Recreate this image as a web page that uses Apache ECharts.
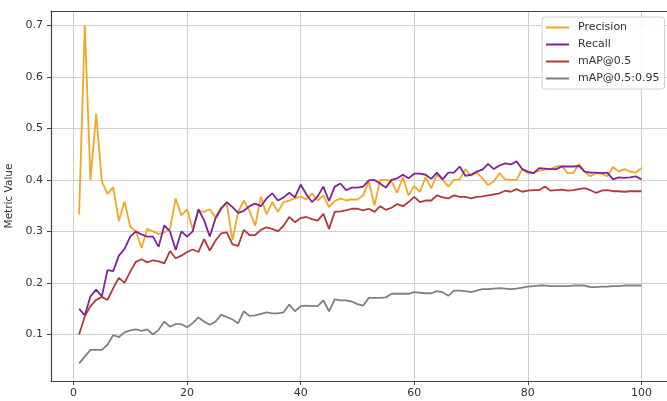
<!DOCTYPE html>
<html>
<head>
<meta charset="utf-8">
<script src="https://cdn.jsdelivr.net/npm/echarts@6/dist/echarts.min.js"></script>
<style>
html,body{margin:0;padding:0;background:#fff;}
#chart{width:667px;height:401px;}
</style>
</head>
<body>
<div id="chart"></div>
<script>
const epochs = Array.from({length:100},(_, i) => i + 1);
const precision = [
0.333,0.700,0.400,0.528,0.397,0.373,0.386,0.320,0.358,0.309,
0.300,0.268,0.305,0.300,0.295,0.298,0.305,0.364,0.331,0.343,
0.304,0.340,0.338,0.343,0.327,0.347,0.354,0.283,0.338,0.360,
0.340,0.311,0.367,0.333,0.357,0.338,0.357,0.360,0.364,0.368,
0.362,0.374,0.360,0.370,0.347,0.359,0.364,0.360,0.362,0.362,
0.370,0.397,0.350,0.400,0.400,0.397,0.375,0.405,0.370,0.388,
0.377,0.405,0.384,0.410,0.400,0.387,0.400,0.401,0.421,0.408,
0.414,0.403,0.390,0.397,0.413,0.401,0.400,0.400,0.421,0.413,
0.413,0.418,0.420,0.421,0.426,0.427,0.413,0.413,0.431,0.416,
0.407,0.413,0.412,0.407,0.425,0.416,0.421,0.416,0.414,0.423];
const recall = [
0.150,0.137,0.174,0.187,0.174,0.225,0.223,0.253,0.266,0.290,
0.300,0.294,0.290,0.290,0.270,0.312,0.300,0.264,0.300,0.290,
0.300,0.343,0.322,0.290,0.325,0.344,0.357,0.347,0.336,0.340,
0.349,0.354,0.349,0.364,0.374,0.360,0.366,0.375,0.366,0.391,
0.372,0.357,0.368,0.387,0.359,0.387,0.393,0.380,0.385,0.385,
0.387,0.399,0.400,0.393,0.385,0.400,0.403,0.410,0.403,0.412,
0.412,0.410,0.402,0.414,0.401,0.414,0.414,0.426,0.408,0.410,
0.416,0.420,0.431,0.421,0.428,0.432,0.430,0.436,0.421,0.416,
0.413,0.423,0.422,0.421,0.421,0.426,0.426,0.426,0.427,0.416,
0.414,0.414,0.413,0.414,0.401,0.405,0.404,0.405,0.407,0.401];
const map50 = [
0.100,0.135,0.155,0.167,0.173,0.167,0.190,0.210,0.200,0.222,
0.241,0.246,0.240,0.244,0.242,0.238,0.262,0.248,0.253,0.260,
0.265,0.260,0.285,0.263,0.282,0.296,0.298,0.275,0.272,0.303,
0.293,0.293,0.303,0.308,0.305,0.300,0.311,0.328,0.318,0.326,
0.328,0.324,0.321,0.334,0.305,0.338,0.339,0.341,0.344,0.344,
0.341,0.344,0.338,0.349,0.342,0.346,0.353,0.349,0.357,0.367,
0.357,0.360,0.360,0.370,0.366,0.364,0.370,0.367,0.367,0.364,
0.367,0.368,0.370,0.372,0.374,0.379,0.377,0.382,0.377,0.379,
0.380,0.380,0.387,0.379,0.380,0.381,0.379,0.380,0.382,0.384,
0.380,0.375,0.379,0.380,0.378,0.378,0.377,0.378,0.378,0.378];
const map5095 = [
0.044,0.057,0.070,0.070,0.070,0.080,0.099,0.095,0.104,0.108,
0.110,0.107,0.110,0.100,0.109,0.125,0.115,0.120,0.120,0.114,
0.122,0.133,0.125,0.119,0.125,0.138,0.134,0.129,0.122,0.145,
0.136,0.137,0.140,0.143,0.141,0.141,0.143,0.158,0.145,0.155,
0.156,0.155,0.155,0.166,0.145,0.168,0.166,0.166,0.164,0.159,
0.156,0.171,0.171,0.171,0.172,0.179,0.179,0.179,0.179,0.182,
0.181,0.180,0.180,0.184,0.182,0.175,0.185,0.185,0.184,0.182,
0.185,0.188,0.188,0.189,0.190,0.189,0.188,0.189,0.191,0.193,
0.194,0.195,0.195,0.194,0.194,0.194,0.194,0.195,0.195,0.195,
0.192,0.192,0.193,0.193,0.194,0.194,0.195,0.195,0.195,0.195];
const xTicks = [0,20,40,60,80,100];
const yTicks = [0.1,0.2,0.3,0.4,0.5,0.6,0.7];
const seriesNames = ['Precision','Recall','mAP@0.5','mAP@0.5:0.95'];
const seriesColors = ['#F6A623','#82229A','#B03A3C','#808080'];

const pairs = arr => epochs.map((e, i) => [e, arr[i]]);
const allData = [precision, recall, map50, map5095];

const font = 'DejaVu Sans';
const chart = echarts.init(document.getElementById('chart'), null, {renderer:'canvas'});
chart.setOption({
  animation: false,
  backgroundColor: '#ffffff',
  textStyle: {fontFamily: font},
  grid: {left: 51, top: 11, right: 0, bottom: 20, containLabel: false, outerBoundsMode: 'none'},
  legend: {
    data: seriesNames,
    orient: 'vertical',
    left: 542, top: 17,
    padding: [4, 5, 4, 4],
    itemGap: 4,
    itemWidth: 23, itemHeight: 2,
    icon: 'rect',
    backgroundColor: 'rgba(255,255,255,0.85)',
    borderColor: '#d0d0d0', borderWidth: 1, borderRadius: 3,
    textStyle: {fontFamily: font, fontSize: 11, color: '#333', padding: [0,0,0,4], lineHeight: 13}
  },
  xAxis: [{
    type: 'value', min: -3.95, max: 104.5,
    axisLine: {show: true, onZero: false, lineStyle: {color: '#444', width: 1.2}},
    axisTick: {show: true, length: 4, customValues: xTicks, lineStyle: {color: '#444'}},
    axisLabel: {customValues: xTicks, margin: 7, fontSize: 11, color: '#333', fontFamily: font},
    splitLine: {show: true, lineStyle: {color: '#cfcfcf', width: 1}}
  }, {
    type: 'value', position: 'top', min: -3.95, max: 104.5,
    axisLine: {show: true, onZero: false, lineStyle: {color: '#444', width: 1.2}},
    axisTick: {show: false}, axisLabel: {show: false}, splitLine: {show: false}
  }],
  yAxis: {
    type: 'value', min: 0.0097, max: 0.7278,
    name: 'Metric Value', nameLocation: 'middle', nameGap: 20,
    nameTextStyle: {fontFamily: font, fontSize: 10.5, color: '#333'},
    axisLine: {show: true, onZero: false, lineStyle: {color: '#444', width: 1.2}},
    axisTick: {show: true, length: 4, customValues: yTicks, lineStyle: {color: '#444'}},
    axisLabel: {customValues: yTicks, margin: 8, fontSize: 11, color: '#333', fontFamily: font,
      formatter: v => v.toFixed(1)},
    splitLine: {show: true, lineStyle: {color: '#cfcfcf', width: 1}}
  },
  series: seriesNames.map((n, i) => ({
    name: n, type: 'line', data: pairs(allData[i]),
    showSymbol: false, symbol: 'none',
    lineStyle: {color: seriesColors[i], width: 1.8},
    itemStyle: {color: seriesColors[i]},
    xAxisIndex: 0
  }))
});
</script>
</body>
</html>
